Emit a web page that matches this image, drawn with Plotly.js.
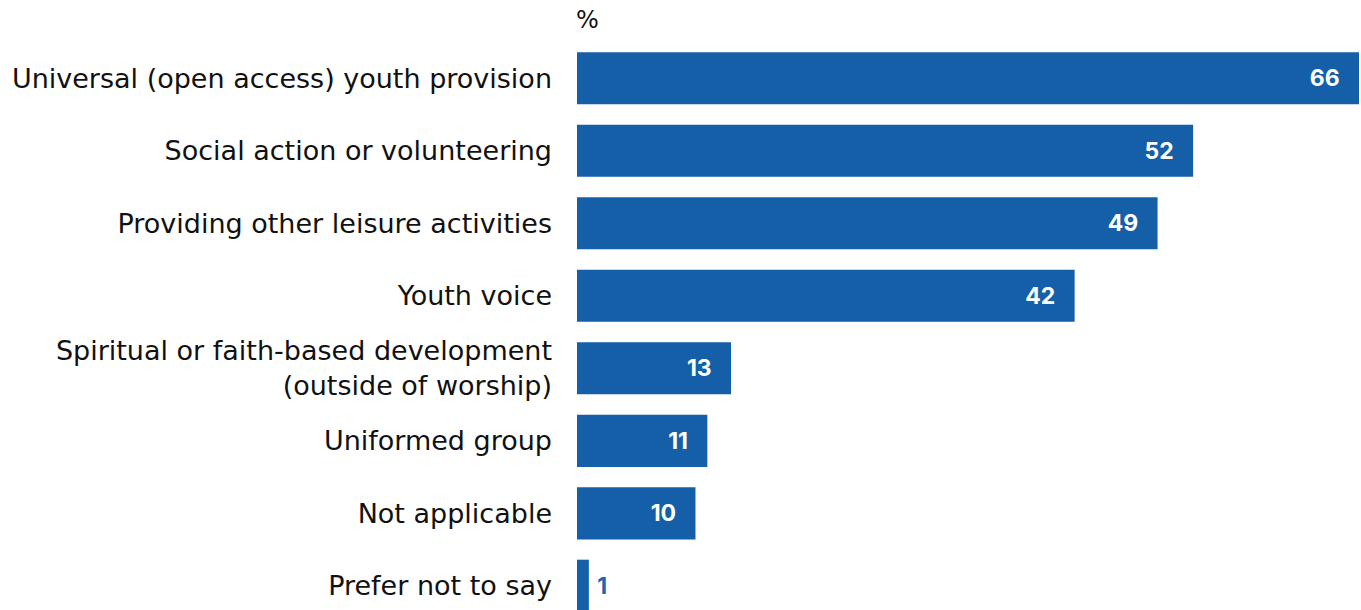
<!DOCTYPE html>
<html>
<head>
<meta charset="utf-8">
<script src="https://cdn.plot.ly/plotly-3.0.1.min.js"></script>
<style>html,body{margin:0;padding:0;background:#fff;}#chart{width:1361px;height:610px;}</style>
</head>
<body>
<div id="chart"></div>
<script>
const categories = [
  "Universal (open access) youth provision",
  "Social action or volunteering",
  "Providing other leisure activities",
  "Youth voice",
  "Spiritual or faith-based development<br>(outside of worship)",
  "Uniformed group",
  "Not applicable",
  "Prefer not to say"
];
const values = [66, 52, 49, 42, 13, 11, 10, 1];
const unitLabel = "%";

const barColor = "#155FA8";
const NB = "\u00a0";
const inside = values.map(v => v >= 5);
const texts = values.map((v, i) => inside[i] ? (v + NB + NB + NB) : (NB + v));
const positions = values.map((v, i) => inside[i] ? "inside" : "outside");
const textColors = values.map((v, i) => inside[i] ? "#ffffff" : "#1B66BA");

const trace = {
  type: "bar",
  orientation: "h",
  x: values,
  y: categories,
  marker: {color: barColor},
  text: texts,
  textposition: positions,
  insidetextanchor: "end",
  textangle: 0,
  cliponaxis: false,
  constraintext: "none",
  textfont: {family: "Inter, 'Open Sans', sans-serif", size: 23, color: textColors, weight: 700},
  hoverinfo: "none"
};

const labelFont = "'DejaVu Sans', Inter, sans-serif";

const layout = {
  width: 1361,
  height: 610,
  margin: {l: 577, r: 2, t: 42, b: 0, pad: 0},
  paper_bgcolor: "#ffffff",
  plot_bgcolor: "#ffffff",
  showlegend: false,
  bargap: 0.28,
  font: {family: labelFont, color: "#111111"},
  xaxis: {range: [0, 66], visible: false, showgrid: false, zeroline: false, fixedrange: true},
  yaxis: {
    type: "category",
    range: [7.334, -0.5],
    showgrid: false, zeroline: false, showline: false,
    ticks: "", ticklabelstandoff: 24,
    tickfont: {family: labelFont, size: 27, color: "#111111"},
    fixedrange: true
  },
  annotations: [{
    text: unitLabel, xref: "paper", yref: "paper", x: 0, y: 1,
    xanchor: "left", yanchor: "bottom", yshift: 6, xshift: -3, showarrow: false,
    font: {family: labelFont, size: 24, color: "#111111"}
  }]
};

Plotly.newPlot("chart", [trace], layout, {displayModeBar: false, staticPlot: true});
</script>
</body>
</html>
